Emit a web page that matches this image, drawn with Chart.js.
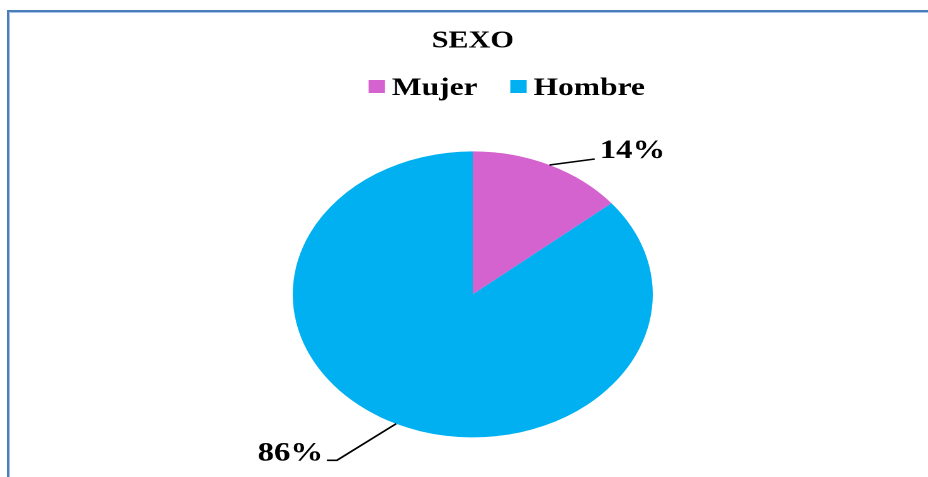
<!DOCTYPE html>
<html>
<head>
<meta charset="utf-8">
<title>SEXO</title>
<script src="https://cdn.jsdelivr.net/npm/chart.js@4.4.1/dist/chart.umd.min.js"></script>
<style>
  html, body { margin:0; padding:0; background:#fff; overflow:hidden; }
  body { width:928px; height:477px; position:relative; }
  /* blue frame of the original sheet */
  #frame { position:absolute; left:7px; top:10px; width:940px; height:480px;
           border-left:2px solid #4a7ebb; border-top:2px solid #4a7ebb;
           box-shadow: inset 1px 1px 0 #a9c3e8; }
  /* the original chart is stretched sideways, so stretch the whole canvas */
  #stretch { position:absolute; left:0; top:0; width:737px; height:490px;
             transform:scaleX(1.259); transform-origin:0 0; }
</style>
</head>
<body>
<div id="frame"></div>
<div id="stretch"><canvas id="pie" width="737" height="490"></canvas></div>

<script>
// data
const chartTitle = 'SEXO';
const categories = ['Mujer', 'Hombre'];
const percentages = [14, 86];
const sliceColors = ['#d462cf', '#00b0f0'];

const serif = "'Liberation Serif', 'Times New Roman', serif";

// legend drawn by hand: tighter box/text gap than the built-in one
const legendRow = {
  id: 'legendRow',
  afterDraw(chart){
    const ctx = chart.ctx, a = chart.chartArea;
    ctx.save();
    ctx.font = 'bold 25px ' + serif;
    const box = 13, gap = 5.5, between = 26, baseline = 95;
    const widths = categories.map(c => ctx.measureText(c).width);
    const total = widths.reduce((s, w) => s + box + gap + w, 0) + between * (categories.length - 1);
    let x = (a.left + a.right) / 2 + 27 - total / 2;
    ctx.textBaseline = 'alphabetic';
    categories.forEach((c, i) => {
      ctx.fillStyle = sliceColors[i];
      ctx.fillRect(x, baseline - 15, box, box);
      x += box + gap;
      ctx.fillStyle = '#000';
      ctx.fillText(c, x, baseline);
      x += widths[i] + between;
    });
    ctx.restore();
  }
};

// percent labels with leader lines outside the pie
const pieLabels = {
  id: 'pieLabels',
  afterDatasetsDraw(chart){
    const ctx = chart.ctx;
    const meta = chart.getDatasetMeta(0);
    ctx.save();
    ctx.font = 'bold 26px ' + serif;
    ctx.fillStyle = '#000';
    ctx.strokeStyle = '#000';
    ctx.lineWidth = 1.6;
    ctx.textBaseline = 'alphabetic';
    meta.data.forEach((arc, i) => {
      const p = arc.getProps(['x', 'y', 'startAngle', 'endAngle', 'outerRadius'], true);
      const mid = (p.startAngle + p.endAngle) / 2;
      const px = p.x + Math.cos(mid) * p.outerRadius;
      const py = p.y + Math.sin(mid) * p.outerRadius;
      const txt = percentages[i] + '%';
      ctx.beginPath();
      ctx.moveTo(px, py);
      if (Math.cos(mid) >= 0) {
        ctx.lineTo(px + 36, py - 6);
        ctx.stroke();
        ctx.textAlign = 'left';
        ctx.fillText(txt, px + 40, py - 7);
      } else {
        ctx.lineTo(px - 47, py + 36.5);
        ctx.lineTo(px - 55, py + 36.5);
        ctx.stroke();
        ctx.textAlign = 'right';
        ctx.fillText(txt, px - 58, py + 36.5);
      }
    });
    ctx.restore();
  }
};

function renderChart(){
  const ctx = document.getElementById('pie').getContext('2d');
  new Chart(ctx, {
    type: 'pie',
    data: {
      labels: categories,
      datasets: [{
        data: percentages,
        backgroundColor: sliceColors,
        borderWidth: 0,
        radius: 143
      }]
    },
    options: {
      responsive: false,
      animation: false,
      devicePixelRatio: 2,
      events: [],
      layout: { padding: { left: 14, right: 0, top: 0, bottom: 11 } },
      plugins: {
        legend: { display: false },
        tooltip: { enabled: false },
        title: {
          display: true,
          text: chartTitle,
          color: '#000',
          font: { family: serif, size: 24, weight: 'bold' },
          padding: { top: 27, bottom: 54 }
        }
      }
    },
    plugins: [pieLabels, legendRow]
  });
}

document.addEventListener('DOMContentLoaded', renderChart);
</script>
</body>
</html>
